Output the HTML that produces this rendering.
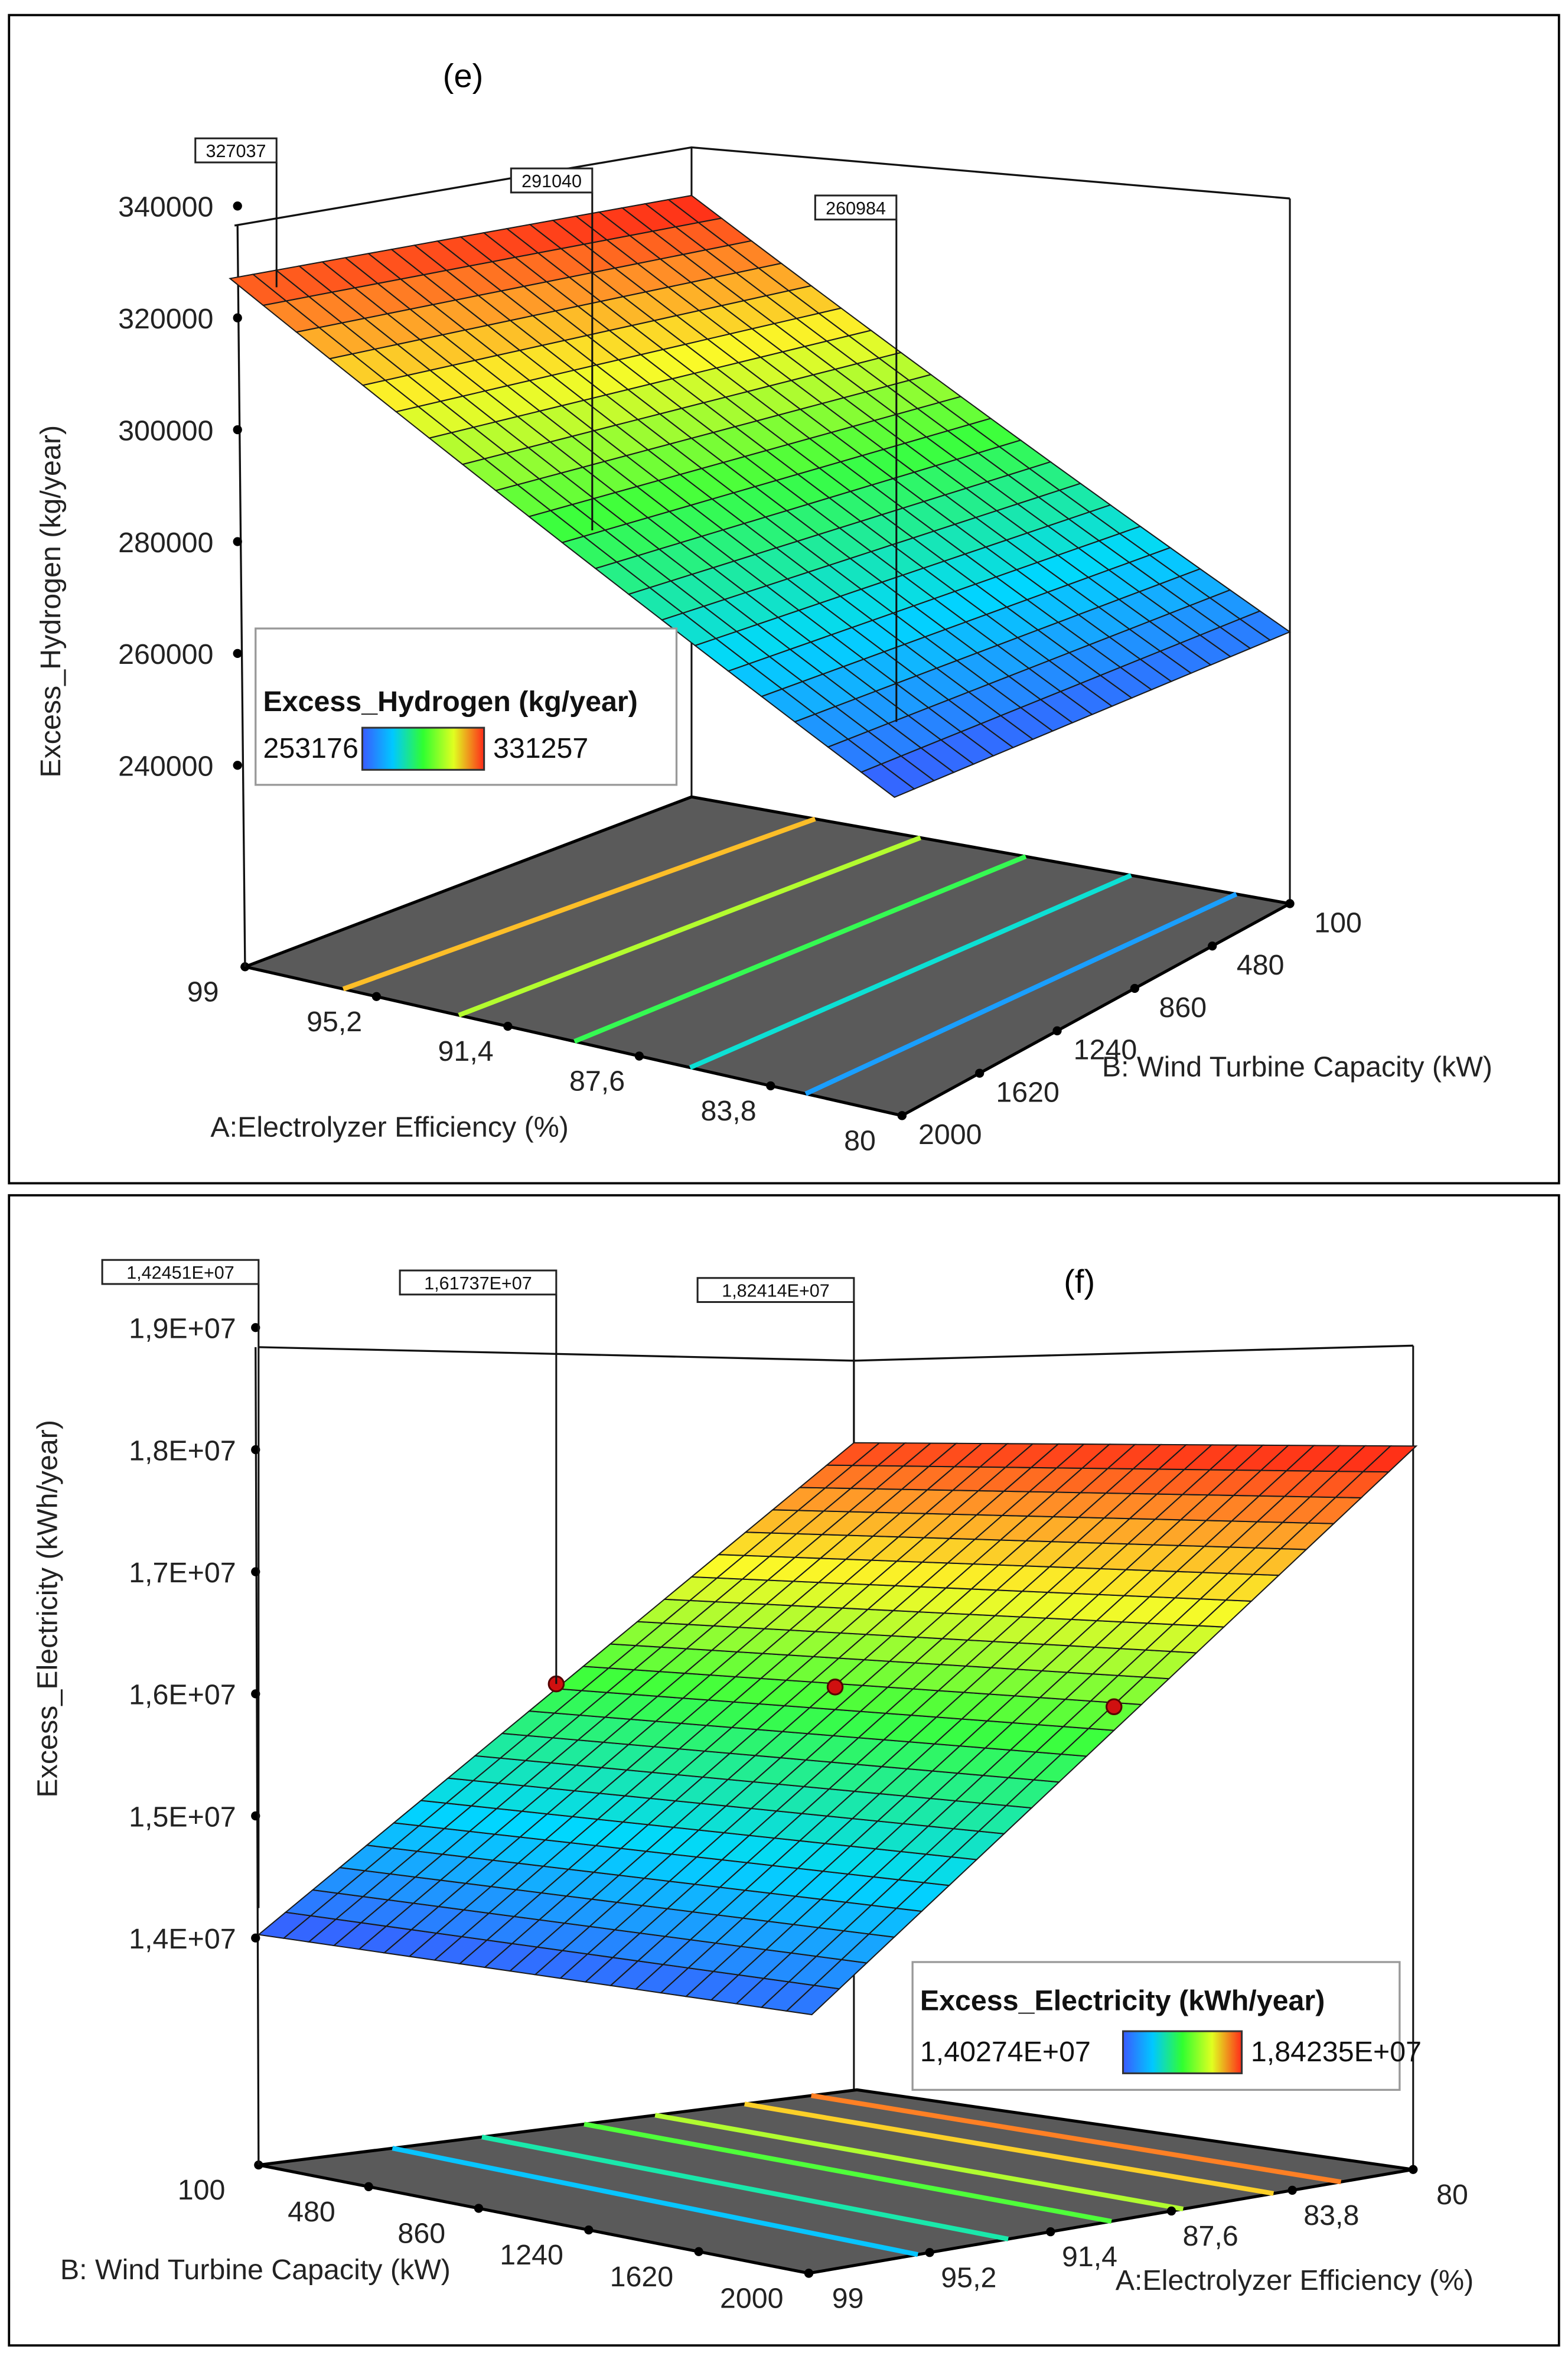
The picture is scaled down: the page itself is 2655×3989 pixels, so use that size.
<!DOCTYPE html>
<html>
<head>
<meta charset="utf-8">
<style>
html,body{margin:0;padding:0;background:#fff;}
svg{display:block;}
text{font-family:"Liberation Sans",sans-serif;}
</style>
</head>
<body>
<svg id="fig" xmlns="http://www.w3.org/2000/svg" width="2655" height="3989" viewBox="0 0 1043 1567">
  <rect x="6" y="10" width="1031" height="777" fill="#fff" stroke="#000" stroke-width="1.5"/>
  <rect x="6" y="795" width="1031" height="765" fill="#fff" stroke="#000" stroke-width="1.5"/>
  <text x="308" y="58" font-family="Liberation Serif, serif" font-size="22" text-anchor="middle">(e)</text>
  <text x="718" y="860" font-family="Liberation Serif, serif" font-size="22" text-anchor="middle">(f)</text>
  <g id="gE"></g>
  <g id="gF"></g>
  <defs>
    <linearGradient id="cbar" x1="0" x2="1" y1="0" y2="0">
      <stop offset="0" stop-color="#3a5aff"/>
      <stop offset="0.25" stop-color="#00c8ff"/>
      <stop offset="0.5" stop-color="#30ff30"/>
      <stop offset="0.75" stop-color="#e0ff20"/>
      <stop offset="1" stop-color="#ff2a1a"/>
    </linearGradient>
  </defs>
</svg>
<script>
// ---------- Chart (e) data ----------
const eCornerValues = [327037, 253176, 331257, 257397]; // [A99/B2000, A80/B2000, A99/B100, A80/B100]
const eLegendRange = [253176, 331257];
const eZTicks = [240000, 260000, 280000, 300000, 320000, 340000];
const eATickLabels = ["99", "95,2", "91,4", "87,6", "83,8", "80"];
const eBTickLabels = ["2000", "1620", "1240", "860", "480", "100"];
const eContourLevels = [316000, 303000, 290000, 277000, 264000];
const ePointA = [0.07, 0.5, 0.9];
const ePointB = [0.0, 0.07, 0.17];
const ePointValues = [327037, 291040, 260984];
const ePointLabels = ["327037", "291040", "260984"];

// ---------- Chart (f) data ----------
const fCornerValues = [1.40274e7, 1.82414e7, 1.42095e7, 1.84235e7]; // [A99/B100, A80/B100, A99/B2000, A80/B2000]
const fLegendRange = [1.40274e7, 1.84235e7];
const fZTicks = [1.4e7, 1.5e7, 1.6e7, 1.7e7, 1.8e7, 1.9e7];
const fZTickLabels = ["1,4E+07", "1,5E+07", "1,6E+07", "1,7E+07", "1,8E+07", "1,9E+07"];
const fBTickLabels = ["100", "480", "860", "1240", "1620", "2000"];
const fATickLabels = ["99", "95,2", "91,4", "87,6", "83,8", "80"];
const fContourLevels = [1.497e7, 1.56e7, 1.632e7, 1.682e7, 1.745e7, 1.792e7];
const fPointA = [0, 0.5, 1, 0.5, 0.5];
const fPointB = [0, 0, 0, 0.5, 1];
const fPointValues = [1.42451e7, 1.61737e7, 1.82414e7, 1.641e7, 1.651e7];
const fPointLabels = ["1,42451E+07", "1,61737E+07", "1,82414E+07", "", ""];

const NS = "http://www.w3.org/2000/svg";
function mk(tag, attrs, parent) {
  const el = document.createElementNS(NS, tag);
  for (const k in attrs) el.setAttribute(k, attrs[k]);
  parent.appendChild(el);
  return el;
}
function bil(c, a, b) { return c[0]*(1-a)*(1-b) + c[1]*a*(1-b) + c[2]*(1-a)*b + c[3]*a*b; }
const cstops = [[0,[58,90,255]],[0.25,[0,215,255]],[0.5,[60,255,60]],[0.72,[250,250,40]],[0.86,[255,150,40]],[1,[255,30,20]]];
function cmap(t) {
  t = Math.max(0, Math.min(1, t));
  for (let i = 1; i < cstops.length; i++) {
    if (t <= cstops[i][0]) {
      const s0 = cstops[i-1], s1 = cstops[i], f = (t - s0[0])/(s1[0]-s0[0]);
      const c = s0[1].map((v,j)=>Math.round(v + (s1[1][j]-v)*f));
      return "rgb(" + c.join(",") + ")";
    }
  }
  return "rgb(255,30,20)";
}

function drawChart(g, cfg) {
  const proj = (a, b, v) => {
    const x = bil(cfg.sx, a, b);
    const base = bil(cfg.base, a, b);
    const k = bil(cfg.k, a, b);
    return [x, base - (v - cfg.zLo)*k];
  };
  const val = (a, b) => bil(cfg.values, a, b);
  const floorP = (a, b) => [bil(cfg.floor.map(p=>p[0]), a, b), bil(cfg.floor.map(p=>p[1]), a, b)];
  const lo = cfg.legendRange[0], hi = cfg.legendRange[1];

  const box = mk("polyline", {points: cfg.boxTop.map(p=>p.join(",")).join(" "), fill:"none", stroke:"#111", "stroke-width":1.3}, g);
  
  
  cfg.boxVerticals.forEach(l => {
    const ln = mk("line", {x1:l[0], y1:l[1], x2:l[2], y2:l[3], stroke:"#111", "stroke-width":1.2}, g);
    
    
  });

  const fc = [floorP(0,0), floorP(1,0), floorP(1,1), floorP(0,1)];
  const floor = mk("polygon", {points: fc.map(p=>p.join(",")).join(" "), fill:"#5a5a5a", stroke:"#000", "stroke-width":2}, g);
  
  

  cfg.contours.forEach(lv => {
    const a0 = (lv - cfg.values[0])/(cfg.values[1]-cfg.values[0]);
    const a1 = (lv - cfg.values[2])/(cfg.values[3]-cfg.values[2]);
    const p0 = floorP(a0, 0), p1 = floorP(a1, 1);
    const ln = mk("line", {x1:p0[0], y1:p0[1], x2:p1[0], y2:p1[1], stroke:cmap((lv-lo)/(hi-lo)), "stroke-width":3.2}, g);
    
    
  });

  cfg.floorAxes.forEach(ax => {
    ax.labels.forEach((lab, i) => {
      const t = i/(ax.labels.length-1);
      const p = ax.pt(t);
      const d = mk("circle", {cx:p[0], cy:p[1], r:3, fill:"#000"}, g);
      
      
      const tx = mk("text", {x:p[0]+ax.off[0], y:p[1]+ax.off[1]+7, "font-size":19, "text-anchor":"middle", fill:"#222"}, g);
      tx.textContent = lab;
      
      
    });
    const tt = mk("text", {x:ax.title[0], y:ax.title[1], "font-size":19, fill:"#222"}, g);
    tt.textContent = ax.title[2];
    
    
  });

  const zl = mk("line", {x1:cfg.zAxis.x, y1:cfg.zAxis.y1, x2:cfg.zAxis.x2, y2:cfg.zAxis.y2, stroke:"#111", "stroke-width":1.3}, g);
  
  
  cfg.zTicks.forEach((v, i) => {
    const y = cfg.zAxis.y0 - (v - cfg.zLo)*cfg.zAxis.k;
    const d = mk("circle", {cx:cfg.zAxis.x, cy:y + cfg.zAxis.dotOff, r:3, fill:"#000"}, g);
    
    
    const tx = mk("text", {x:cfg.zAxis.labelX, y:y+7, "font-size":19, "text-anchor":"end", fill:"#222"}, g);
    tx.textContent = cfg.zTickLabels[i];
    
    
  });
  const zt = mk("text", {x:0, y:0, "font-size":19, "text-anchor":"middle", fill:"#222", transform:"translate(" + cfg.zTitle[0] + "," + cfg.zTitle[1] + ") rotate(-90)"}, g);
  zt.textContent = cfg.zTitle[2];
  
  

  const n = cfg.grid;
  for (let i = 0; i < n; i++) {
    for (let j = 0; j < n; j++) {
      const a0 = i/n, a1 = (i+1)/n, b0 = j/n, b1 = (j+1)/n;
      const pts = [proj(a0,b0,val(a0,b0)), proj(a1,b0,val(a1,b0)), proj(a1,b1,val(a1,b1)), proj(a0,b1,val(a0,b1))];
      const vc = val((a0+a1)/2, (b0+b1)/2);
      const cell = mk("polygon", {points: pts.map(p=>p[0].toFixed(2)+","+p[1].toFixed(2)).join(" "), fill:cmap((vc-lo)/(hi-lo)), stroke:"#1a1a1a", "stroke-width":0.8}, g);
      
      
    }
  }

  cfg.points.a.forEach((a, i) => {
    const b = cfg.points.b[i];
    const p = proj(a, b, cfg.points.v[i]);
    if (cfg.points.dots[i]) {
      const c = mk("circle", {cx:p[0], cy:p[1], r:5, fill:"#d01010", stroke:"#500", "stroke-width":1.2}, g);
      
      
    }
    const lab = cfg.points.labels[i];
    if (lab) {
      const top = cfg.points.labelY[i];
      const ln = mk("line", {x1:p[0], y1:top+16, x2:p[0], y2:p[1], stroke:"#111", "stroke-width":1.2}, g);
      
      
      const w = cfg.points.labelW;
      const r = mk("rect", {x:p[0]-w, y:top, width:w, height:16, fill:"#fff", stroke:"#222", "stroke-width":1.2}, g);
      
      
      const t = mk("text", {x:p[0]-w/2, y:top+12.5, "font-size":12, "text-anchor":"middle", fill:"#111"}, g);
      t.textContent = lab;
      
      
    }
  });

  const L = cfg.legend;
  const lb = mk("rect", {x:L.x, y:L.y, width:L.w, height:L.h, fill:"#fff", stroke:"#999", "stroke-width":1.3}, g);
  
  
  const lt = mk("text", {x:L.x+5, y:L.y+L.titleDy, "font-size":19, "font-weight":"bold", fill:"#111"}, g);
  lt.textContent = L.title;
  
  
  const lmin = mk("text", {x:L.x+5, y:L.y+L.rowDy, "font-size":19, fill:"#111"}, g);
  lmin.textContent = L.fmt(lo);
  
  
  const bar = mk("rect", {x:L.barX, y:L.y+L.rowDy-20, width:L.barW, height:28, fill:"url(#cbar)", stroke:"#333", "stroke-width":1.2}, g);
  
  
  const lmax = mk("text", {x:L.barX+L.barW+6, y:L.y+L.rowDy, "font-size":19, fill:"#111"}, g);
  lmax.textContent = L.fmt(hi);
  
  
}

const eFloor = [[163,643],[600,742],[460,530],[858,601]];
drawChart(document.getElementById("gE"), {
  values: eCornerValues, legendRange: eLegendRange, zLo: 240000, grid: 20,
  sx: [153,595,460,858], base: [509,577,464,481], k: [0.00372,0.00355,0.00366,0.00349],
  floor: eFloor,
  boxTop: [[156,150],[460,98],[858,132]],
  boxVerticals: [[460,98,460,530],[858,132,858,601]],
  contours: eContourLevels,
  floorAxes: [
    {labels: eATickLabels, pt: t => [eFloor[0][0]+(eFloor[1][0]-eFloor[0][0])*t, eFloor[0][1]+(eFloor[1][1]-eFloor[0][1])*t], off:[-28,16], title:[140,756,"A:Electrolyzer Efficiency (%)"]},
    {labels: eBTickLabels, pt: t => [eFloor[1][0]+(eFloor[3][0]-eFloor[1][0])*t, eFloor[1][1]+(eFloor[3][1]-eFloor[1][1])*t], off:[32,12], title:[733,716,"B: Wind Turbine Capacity (kW)"]}
  ],
  zAxis: {x:158, x2:163, y1:150, y2:643, y0:509, k:0.00372, labelX:142, dotOff:0},
  zTicks: eZTicks, zTickLabels: eZTicks.map(v=>String(v)),
  zTitle: [40, 400, "Excess_Hydrogen  (kg/year)"],
  points: {a: ePointA, b: ePointB, v: ePointValues, labels: ePointLabels, labelY:[92,112,130], labelW:54, dots:[false,false,false]},
  legend: {x:170, y:418, w:280, h:104, titleDy:55, rowDy:86, barX:241, barW:81, title:"Excess_Hydrogen  (kg/year)", fmt: v=>String(Math.round(v))}
});

const fFloor = [[172,1440],[570,1390],[538,1512],[940,1443]];
function fmtE(v){ const e = Math.floor(Math.log10(v)); return (v/Math.pow(10,e)).toFixed(5).replace(".",",") + "E+" + String(e).padStart(2,"0"); }
drawChart(document.getElementById("gF"), {
  values: fCornerValues, legendRange: fLegendRange, zLo: 1.4e7, grid: 22,
  sx: [172,568,540,942], base: [1289,1304,1357,1321], k: [81.2e-6,81.2e-6,81.2e-6,81.2e-6],
  floor: fFloor,
  boxTop: [[172,896],[568,905],[940,895]],
  boxVerticals: [[568,905,568,1390],[940,895,940,1443]],
  contours: fContourLevels,
  floorAxes: [
    {labels: fBTickLabels, pt: t => [fFloor[0][0]+(fFloor[2][0]-fFloor[0][0])*t, fFloor[0][1]+(fFloor[2][1]-fFloor[0][1])*t], off:[-38,16], title:[40,1516,"B: Wind Turbine Capacity (kW)"]},
    {labels: fATickLabels, pt: t => [fFloor[2][0]+(fFloor[3][0]-fFloor[2][0])*t, fFloor[2][1]+(fFloor[3][1]-fFloor[2][1])*t], off:[26,16], title:[742,1523,"A:Electrolyzer Efficiency (%)"]}
  ],
  zAxis: {x:170, x2:172, y1:896, y2:1440, y0:1289, k:81.2e-6, labelX:157, dotOff:0},
  zTicks: fZTicks, zTickLabels: fZTickLabels,
  zTitle: [38, 1070, "Excess_Electricity  (kWh/year)"],
  points: {a: fPointA, b: fPointB, v: fPointValues, labels: fPointLabels, labelY:[838,845,850,0,0], labelW:104, dots:[false,true,false,true,true]},
  legend: {x:607, y:1305, w:324, h:85, titleDy:32, rowDy:66, barX:747, barW:79, title:"Excess_Electricity  (kWh/year)", fmt: fmtE}
});
</script>
</body>
</html>
